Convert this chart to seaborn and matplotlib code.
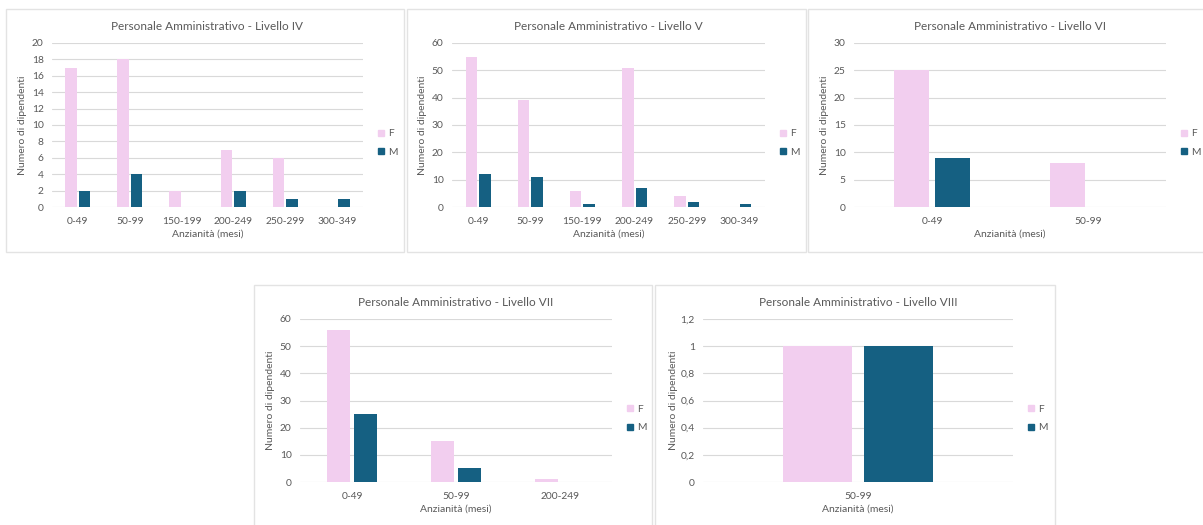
import matplotlib
matplotlib.use("Agg")
import matplotlib.pyplot as plt
import seaborn as sns
import pandas as pd
from matplotlib.patches import Rectangle
from matplotlib.lines import Line2D
from matplotlib.ticker import FuncFormatter

# Anzianità classes and headcounts per level
cat_iv = ["0-49", "50-99", "150-199", "200-249", "250-299", "300-349"]
f_iv = [17, 18, 2, 7, 6, 0]
m_iv = [2, 4, 0, 2, 1, 1]

cat_v = ["0-49", "50-99", "150-199", "200-249", "250-299", "300-349"]
f_v = [55, 39, 6, 51, 4, 0]
m_v = [12, 11, 1, 7, 2, 1]

cat_vi = ["0-49", "50-99"]
f_vi = [25, 8]
m_vi = [9, 0]

cat_vii = ["0-49", "50-99", "200-249"]
f_vii = [56, 15, 1]
m_vii = [25, 5, 0]

cat_viii = ["50-99"]
f_viii = [1]
m_viii = [1]

titles = ["Personale Amministrativo - Livello IV",
          "Personale Amministrativo - Livello V",
          "Personale Amministrativo - Livello VI",
          "Personale Amministrativo - Livello VII",
          "Personale Amministrativo - Livello VIII"]

PINK = "#F2CEEF"
BLUE = "#156082"
TXT = "#595959"
GRID = "#D9D9D9"
BORDER = "#E3E3E3"

sns.set_theme(style="white")
plt.rcParams["font.family"] = ["Lato", "DejaVu Sans"]

W, H = 1203, 525
fig = plt.figure(figsize=(W / 100, H / 100), dpi=100)
fig.patch.set_facecolor("white")


def frac_box(x0, y0, x1, y1):
    return [x0 / W, 1 - y1 / H, (x1 - x0) / W, (y1 - y0) / H]


# panel frames (pixel extents)
frames = [(6, 9, 404, 252), (407, 9, 806, 252), (808, 9, 1210, 252),
          (254, 285, 652, 530), (655, 285, 1055, 530)]
for x0, y0, x1, y1 in frames:
    fig.patches.append(Rectangle((x0 / W, 1 - y1 / H), (x1 - x0) / W, (y1 - y0) / H,
                                 transform=fig.transFigure, fill=False,
                                 edgecolor=BORDER, linewidth=1.0, zorder=0))

# plot areas
areas = [(52, 43, 363, 207), (452, 43, 765, 207), (854, 43, 1166, 207),
         (300, 319, 612, 482), (703, 319, 1013, 482)]

datasets = [(cat_iv, f_iv, m_iv, 20, 2),
            (cat_v, f_v, m_v, 60, 10),
            (cat_vi, f_vi, m_vi, 30, 5),
            (cat_vii, f_vii, m_vii, 60, 10),
            (cat_viii, f_viii, m_viii, 1.2, 0.2)]


def it_fmt(v, _):
    if abs(v - round(v)) < 1e-9:
        return f"{int(round(v))}"
    return f"{v:.1f}".replace(".", ",")


for (cats, fv, mv, ymax, step), area, frame, title in zip(datasets, areas, frames, titles):
    ax = fig.add_axes(frac_box(*area))
    ax_w = area[2] - area[0]
    df = pd.DataFrame({
        "cls": cats * 2,
        "sex": ["F"] * len(cats) + ["M"] * len(cats),
        "n": list(fv) + list(mv),
    })
    sns.barplot(data=df, x="cls", y="n", hue="sex", order=cats, hue_order=["F", "M"],
                palette={"F": PINK, "M": BLUE}, saturation=1, width=0.52, gap=0.15,
                linewidth=0, ax=ax, legend=False, zorder=3)
    ax.set_xlim(-0.5, len(cats) - 0.5)
    ax.set_ylim(0, ymax)
    n_ticks = int(round(ymax / step))
    ax.set_yticks([i * step for i in range(n_ticks + 1)])
    ax.yaxis.set_major_formatter(FuncFormatter(it_fmt))
    ax.grid(axis="y", color=GRID, linewidth=0.8, zorder=0)
    ax.set_axisbelow(True)
    for s in ax.spines.values():
        s.set_visible(False)
    ax.tick_params(axis="both", length=0, labelsize=7.4, labelcolor=TXT)
    ax.tick_params(axis="y", pad=6)
    ax.tick_params(axis="x", pad=7)
    ax.set_xlabel("Anzianità (mesi)", fontsize=7.5, color=TXT, labelpad=3)
    ax.set_ylabel("Numero di dipendenti", fontsize=7.5, color=TXT)
    ax.yaxis.set_label_coords(-25 / ax_w, 0.5)
    ax.set_title(title, fontsize=8.5, color=TXT, pad=9)

    handles = [Line2D([], [], marker="s", linestyle="none", markersize=5,
                      markerfacecolor=PINK, markeredgecolor=PINK),
               Line2D([], [], marker="s", linestyle="none", markersize=5,
                      markerfacecolor=BLUE, markeredgecolor=BLUE)]
    ax.legend(handles, ["F", "M"], loc="center left", bbox_to_anchor=(1.03, 0.39),
              frameon=False, fontsize=7.4, labelcolor=TXT, handlelength=0.8,
              handletextpad=0.3, labelspacing=0.9, borderaxespad=0)

fig.savefig("out.png", dpi=100, facecolor="white")
